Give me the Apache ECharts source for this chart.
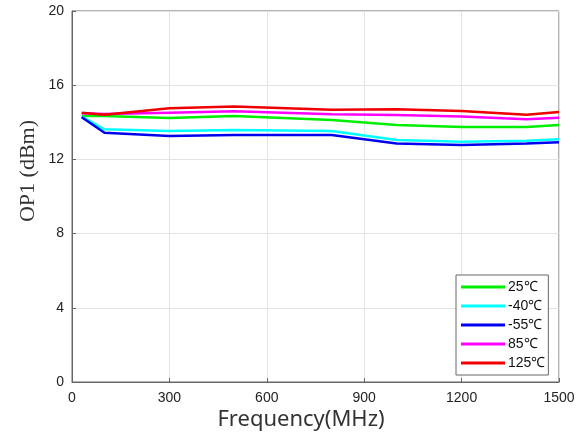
<!DOCTYPE html>
<html>
<head>
<meta charset="utf-8">
<script src="https://cdn.jsdelivr.net/npm/echarts@6/dist/echarts.min.js"></script>
<style>html,body{margin:0;padding:0;background:#fff;}#c{width:585px;height:438px;}</style>
</head>
<body>
<div id="c"></div>
<script>
const freqs = [30, 100, 300, 500, 800, 1000, 1200, 1400, 1500];
const s25 = [14.34, 14.34, 14.23, 14.34, 14.13, 13.86, 13.75, 13.75, 13.86];
const sM40 = [14.31, 13.62, 13.53, 13.59, 13.53, 13.05, 12.95, 13.01, 13.08];
const sM55 = [14.27, 13.44, 13.26, 13.32, 13.32, 12.86, 12.77, 12.86, 12.93];
const s85 = [14.49, 14.45, 14.52, 14.59, 14.43, 14.40, 14.31, 14.16, 14.25];
const s125 = [14.52, 14.41, 14.76, 14.85, 14.67, 14.70, 14.61, 14.41, 14.56];
const seriesNames = ['25℃', '-40℃', '-55℃', '85℃', '125℃'];
const seriesColors = ['#00ee00', '#00ffff', '#0000ee', '#ff00ff', '#ee0000'];
const seriesData = [s25, sM40, sM55, s85, s125];
const xTicks = [0, 300, 600, 900, 1200, 1500];
const yTicks = [0, 4, 8, 12, 16, 20];
const xTitle = 'Frequency(MHz)';
const yTitle = 'OP1 (dBm)';

const chart = echarts.init(document.getElementById('c'));
chart.setOption({
  animation: false,
  backgroundColor: '#fff',
  grid: { left: 72, right: 26, top: 11, bottom: 56, outerBoundsMode: 'none', containLabel: false,
          show: true, borderColor: '#666', borderWidth: 1 },
  graphic: [{
    type: 'text', x: 28, y: 171, rotation: Math.PI / 2,
    style: { text: yTitle, font: '22px "Liberation Serif"', fill: '#333',
             align: 'center', verticalAlign: 'middle' }
  }, {
    type: 'text', x: 301, y: 420,
    style: { text: xTitle, font: '22px "Noto Sans"', fill: '#333',
             align: 'center', verticalAlign: 'middle' }
  }],
  xAxis: {
    type: 'value', min: xTicks[0], max: xTicks[xTicks.length - 1], interval: 300,
    axisLine: { show: true, lineStyle: { color: '#666' } },
    axisTick: { show: true, inside: true, length: 4, lineStyle: { color: '#666' } },
    axisLabel: { fontFamily: 'Liberation Sans', fontSize: 14, color: '#222', margin: 9,
                 formatter: v => String(v) },
    splitLine: { show: true, lineStyle: { color: '#e3e3e3', width: 1 } }
  },
  yAxis: {
    type: 'value', min: yTicks[0], max: yTicks[yTicks.length - 1], interval: 4,
    axisLine: { show: true, lineStyle: { color: '#666' } },
    axisTick: { show: true, inside: true, length: 4, lineStyle: { color: '#666' } },
    axisLabel: { fontFamily: 'Liberation Sans', fontSize: 14, color: '#222', margin: 8,
                 formatter: v => String(v) },
    splitLine: { show: true, lineStyle: { color: '#e3e3e3', width: 1 } }
  },
  legend: {
    orient: 'vertical', left: 456, top: 275,
    padding: [5, 3, 5, 5], itemGap: 5,
    backgroundColor: '#fff', borderColor: '#666', borderWidth: 1, borderRadius: 0,
    icon: 'path://M0,0 L44,0 L44,3 L0,3 Z', itemWidth: 44, itemHeight: 3,
    textStyle: { fontFamily: 'Liberation Sans', fontSize: 14, color: '#111', padding: [0, 0, 0, -2] },
    data: seriesNames
  },
  series: seriesData.map((d, i) => ({
    name: seriesNames[i], type: 'line', symbol: 'none', smooth: false,
    data: freqs.map((f, j) => [f, d[j]]),
    lineStyle: { color: seriesColors[i], width: 2.5 },
    itemStyle: { color: seriesColors[i] },
    z: 2 + i
  }))
});
</script>
</body>
</html>
